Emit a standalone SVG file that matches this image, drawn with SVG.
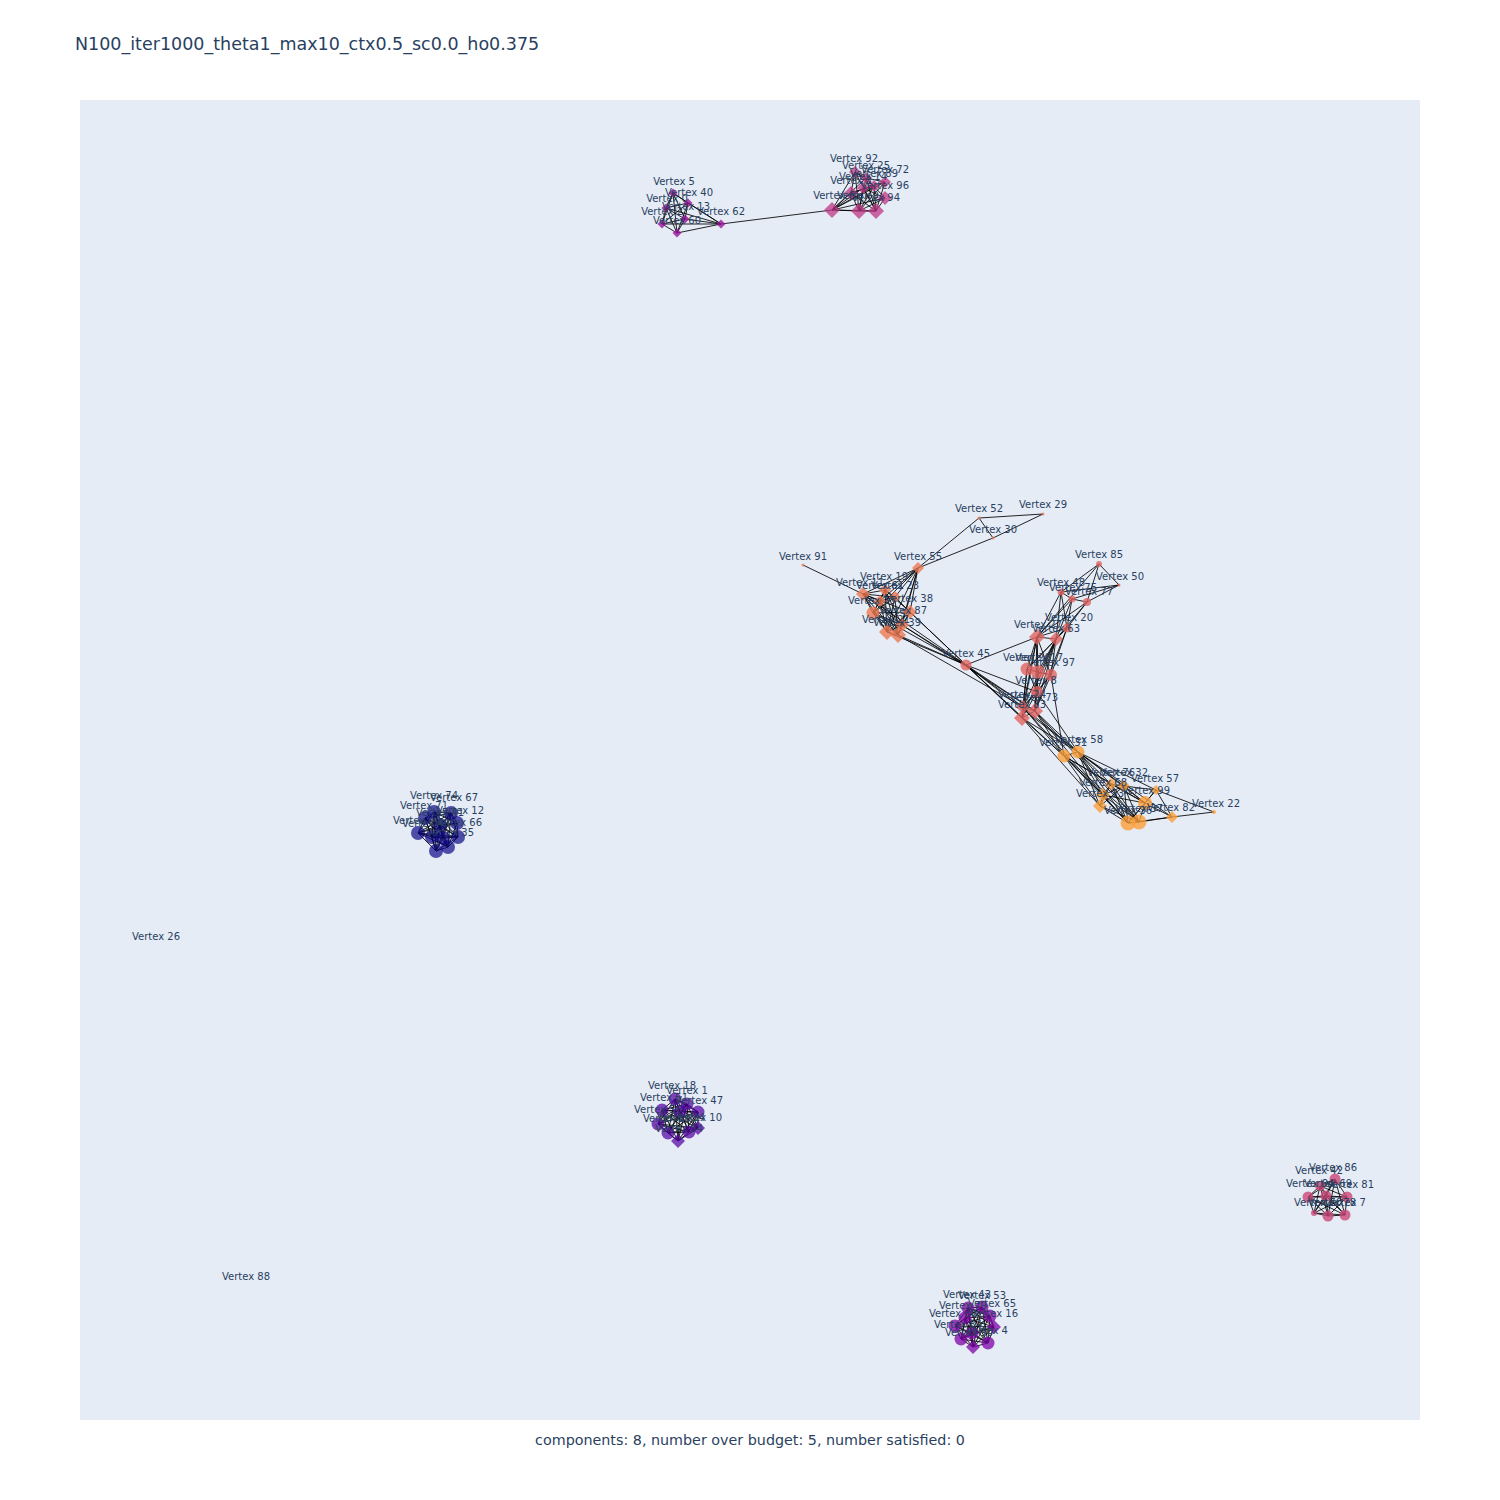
<svg xmlns="http://www.w3.org/2000/svg" width="1500" height="1500" viewBox="0 0 1500 1500">
<style>
text{font-family:"DejaVu Sans",Verdana,sans-serif;fill:#2a3f5f}
.t{font-size:10px;text-anchor:middle}
.e{stroke:#000;stroke-width:0.85;fill:none}
.cA{fill:#9c179e;opacity:.8}
.cB{fill:#bd3786;opacity:.75}
.cC{fill:#ed7953;opacity:.8}
.cD{fill:#e16462;opacity:.8}
.cE{fill:#fb9f3a;opacity:.8}
.cF{fill:#0d0887;opacity:.7}
.cG{fill:#5302a3;opacity:.72}
.cH{fill:#cc4778;opacity:.8}
.cI{fill:#7e03a8;opacity:.75}
</style>
<rect width="1500" height="1500" fill="#fff"/>
<rect x="80" y="100" width="1340" height="1320" fill="#E5ECF6"/>
<text x="75" y="50" font-size="17.5">N100_iter1000_theta1_max10_ctx0.5_sc0.0_ho0.375</text>
<text x="750" y="1445" font-size="14.3" text-anchor="middle">components: 8, number over budget: 5, number satisfied: 0</text>
<g id="connectors">
<path class="e" d="M673 193L688 203M673 193L666 208M673 193L685 219M673 193L721 224M673 193L662 224M673 193L677 233M688 203L666 208M688 203L685 219M688 203L721 224M688 203L662 224M688 203L677 233M666 208L685 219M666 208L721 224M666 208L662 224M666 208L677 233M685 219L721 224M685 219L662 224M685 219L677 233M721 224L662 224M721 224L677 233M662 224L677 233M721 224L832 210"/>
<path class="e" d="M832 210L855 172M832 210L866 178M832 210L885 182M832 210L874 186M832 210L851 193M832 210L885 198M832 210L876 211M832 210L859 211M832 210L863 188M859 211L855 172M859 211L866 178M859 211L885 182M859 211L874 186M859 211L851 193M859 211L885 198M859 211L876 211M859 211L863 188M876 211L855 172M876 211L866 178M876 211L885 182M876 211L874 186M876 211L851 193M876 211L885 198M876 211L863 188M855 172L866 178M866 178L885 182M855 172L874 186M866 178L885 198M851 193L885 182M851 193L874 186M863 188L885 198M855 172L851 193"/>
<path class="e" d="M803 565L863 594M918 568L885 590M918 568L863 594M918 568L880 601M918 568L895 597M918 568L873 613M918 568L910 612M918 568L902 625M918 568L887 632M918 568L898 635M918 568L979 518M918 568L993 538M979 518L1043 514M979 518L993 538M1043 514L993 538M863 594L885 590M863 594L880 601M863 594L895 597M863 594L873 613M863 594L910 612M863 594L902 625M863 594L887 632M863 594L898 635M885 590L880 601M885 590L895 597M885 590L873 613M885 590L910 612M885 590L902 625M885 590L887 632M885 590L898 635M873 613L880 601M873 613L895 597M873 613L910 612M873 613L902 625M873 613L887 632M873 613L898 635M887 632L895 597M887 632L910 612M887 632L902 625M887 632L898 635M887 632L880 601M898 635L895 597M898 635L910 612M898 635L902 625M898 635L880 601M880 601L895 597M910 612L902 625M895 597L910 612M880 601L902 625M910 612L966 665M902 625L966 665M887 632L966 665M898 635L966 665M873 613L966 665M863 594L966 665M910 612L1022 718M902 625L1035 711M898 635L1023 707"/>
<path class="e" d="M966 665L1037 637M966 665L1023 707M966 665L1035 711M966 665L1022 718M966 665L1037 692M966 665L1064 756M966 665L1078 752M1099 564L1061 592M1099 564L1119 585M1099 564L1087 602M1099 564L1037 637M1119 585L1087 602M1119 585L1072 599M1119 585L1061 592M1061 592L1072 599M1061 592L1037 637M1061 592L1056 639M1061 592L1067 628M1072 599L1087 602M1072 599L1067 628M1072 599L1037 637M1072 599L1056 639M1087 602L1067 628M1087 602L1056 639M1087 602L1037 637M1067 628L1037 637M1067 628L1056 639M1037 637L1056 639M1037 637L1027 669M1037 637L1038 672M1037 637L1051 675M1037 637L1037 692M1037 637L1023 707M1037 637L1035 711M1037 637L1022 718M1056 639L1027 669M1056 639L1038 672M1056 639L1051 675M1056 639L1037 692M1056 639L1023 707M1056 639L1035 711M1056 639L1022 718M1067 628L1051 675M1067 628L1027 669M1067 628L1035 711M1027 669L1038 672M1027 669L1037 692M1027 669L1023 707M1027 669L1022 718M1038 672L1051 675M1038 672L1037 692M1038 672L1035 711M1051 675L1037 692M1051 675L1035 711M1051 675L1023 707M1037 692L1023 707M1037 692L1035 711M1037 692L1022 718M1023 707L1035 711M1023 707L1022 718M1035 711L1022 718M1023 707L1078 752M1023 707L1064 756M1035 711L1078 752M1035 711L1064 756M1022 718L1064 756M1022 718L1078 752M1037 692L1078 752M1051 675L1064 756M1035 711L1103 795M1022 718L1100 806M1023 707L1128 823M1035 711L1139 822"/>
<path class="e" d="M1078 752L1064 756M1078 752L1111 784M1078 752L1124 786M1078 752L1156 790M1078 752L1103 795M1078 752L1145 803M1078 752L1100 806M1078 752L1172 817M1078 752L1128 823M1078 752L1139 822M1064 756L1111 784M1064 756L1103 795M1064 756L1100 806M1064 756L1128 823M1064 756L1139 822M1064 756L1145 803M1111 784L1124 786M1111 784L1103 795M1111 784L1145 803M1111 784L1100 806M1111 784L1128 823M1111 784L1139 822M1124 786L1156 790M1124 786L1103 795M1124 786L1145 803M1124 786L1100 806M1124 786L1128 823M1124 786L1139 822M1156 790L1145 803M1156 790L1172 817M1156 790L1128 823M1156 790L1214 812M1103 795L1100 806M1103 795L1128 823M1103 795L1139 822M1103 795L1145 803M1145 803L1172 817M1145 803L1128 823M1145 803L1139 822M1100 806L1128 823M1100 806L1139 822M1172 817L1128 823M1172 817L1139 822M1172 817L1214 812M1128 823L1139 822"/>
<path class="e" d="M451 813L434 812M451 813L425 818M451 813L440 825M451 813L418 833M451 813L432 837M451 813L443 838M451 813L458 837M451 813L448 847M451 813L436 851M434 812L425 818M434 812L440 825M434 812L418 833M434 812L432 837M434 812L443 838M434 812L458 837M434 812L448 847M434 812L436 851M425 818L440 825M425 818L418 833M425 818L432 837M425 818L443 838M425 818L458 837M425 818L448 847M425 818L436 851M440 825L418 833M440 825L432 837M440 825L443 838M440 825L458 837M440 825L448 847M440 825L436 851M418 833L432 837M418 833L443 838M418 833L458 837M418 833L448 847M418 833L436 851M432 837L443 838M432 837L458 837M432 837L448 847M432 837L436 851M443 838L458 837M443 838L448 847M443 838L436 851M458 837L448 847M458 837L436 851M448 847L436 851M457 823L451 813M457 823L440 825M457 823L458 837M457 823L448 847M457 823L418 833M457 823L434 812"/>
<path class="e" d="M675 1099L687 1104M675 1099L698 1112M675 1099L662 1110M675 1099L680 1112M675 1099L658 1124M675 1099L668 1133M675 1099L689 1132M675 1099L698 1128M675 1099L678 1141M687 1104L698 1112M687 1104L662 1110M687 1104L680 1112M687 1104L658 1124M687 1104L668 1133M687 1104L689 1132M687 1104L698 1128M687 1104L678 1141M698 1112L662 1110M698 1112L680 1112M698 1112L658 1124M698 1112L668 1133M698 1112L689 1132M698 1112L698 1128M698 1112L678 1141M662 1110L680 1112M662 1110L658 1124M662 1110L668 1133M662 1110L689 1132M662 1110L698 1128M662 1110L678 1141M680 1112L658 1124M680 1112L668 1133M680 1112L689 1132M680 1112L698 1128M680 1112L678 1141M658 1124L668 1133M658 1124L689 1132M658 1124L698 1128M658 1124L678 1141M668 1133L689 1132M668 1133L698 1128M668 1133L678 1141M689 1132L698 1128M689 1132L678 1141M698 1128L678 1141"/>
<path class="e" d="M1335 1179L1308 1197M1335 1179L1326 1196M1335 1179L1347 1197M1335 1179L1314 1213M1335 1179L1328 1216M1335 1179L1345 1215M1335 1179L1320 1186M1308 1197L1326 1196M1308 1197L1347 1197M1308 1197L1314 1213M1308 1197L1328 1216M1308 1197L1345 1215M1308 1197L1320 1186M1326 1196L1347 1197M1326 1196L1314 1213M1326 1196L1328 1216M1326 1196L1345 1215M1326 1196L1320 1186M1347 1197L1314 1213M1347 1197L1328 1216M1347 1197L1345 1215M1347 1197L1320 1186M1314 1213L1328 1216M1314 1213L1345 1215M1314 1213L1320 1186M1328 1216L1345 1215M1328 1216L1320 1186M1345 1215L1320 1186"/>
<path class="e" d="M968 1308L982 1307M968 1308L990 1316M968 1308L965 1318M968 1308L955 1326M968 1308L972 1333M968 1308L994 1327M968 1308L961 1339M968 1308L988 1343M968 1308L973 1347M982 1307L990 1316M982 1307L965 1318M982 1307L955 1326M982 1307L972 1333M982 1307L994 1327M982 1307L961 1339M982 1307L988 1343M982 1307L973 1347M990 1316L965 1318M990 1316L955 1326M990 1316L972 1333M990 1316L994 1327M990 1316L961 1339M990 1316L988 1343M990 1316L973 1347M965 1318L955 1326M965 1318L972 1333M965 1318L994 1327M965 1318L961 1339M965 1318L988 1343M965 1318L973 1347M955 1326L972 1333M955 1326L994 1327M955 1326L961 1339M955 1326L988 1343M955 1326L973 1347M972 1333L994 1327M972 1333L961 1339M972 1333L988 1343M972 1333L973 1347M994 1327L961 1339M994 1327L988 1343M994 1327L973 1347M961 1339L988 1343M961 1339L973 1347M988 1343L973 1347"/>
</g>
<g id="nodes">
<g id="v5"><path class="cA" d="M673 188.5l4.5 4.5-4.5 4.5-4.5-4.5z"/><text class="t" x="674" y="185">Vertex 5</text></g>
<g id="v40"><path class="cA" d="M688 198.5l4.5 4.5-4.5 4.5-4.5-4.5z"/><text class="t" x="689" y="196">Vertex 40</text></g>
<g id="v0"><path class="cA" d="M666 203.5l4.5 4.5-4.5 4.5-4.5-4.5z"/><text class="t" x="667" y="202">Vertex 0</text></g>
<g id="v13"><path class="cA" d="M685 214.5l4.5 4.5-4.5 4.5-4.5-4.5z"/><text class="t" x="686" y="210">Vertex 13</text></g>
<g id="v62"><path class="cA" d="M721 219.5l4.5 4.5-4.5 4.5-4.5-4.5z"/><text class="t" x="721" y="215">Vertex 62</text></g>
<g id="v2"><path class="cA" d="M662 219.5l4.5 4.5-4.5 4.5-4.5-4.5z"/><text class="t" x="662" y="215">Vertex 2</text></g>
<g id="v60"><path class="cA" d="M677 228.5l4.5 4.5-4.5 4.5-4.5-4.5z"/><text class="t" x="677" y="224">Vertex 60</text></g>

<g id="v92"><path class="cB" d="M855 166l6 6-6 6-6-6z"/><text class="t" x="854" y="162">Vertex 92</text></g>
<g id="v25"><path class="cB" d="M866 172l6 6-6 6-6-6z"/><text class="t" x="866" y="169">Vertex 25</text></g>
<g id="v72"><path class="cB" d="M885 176l6 6-6 6-6-6z"/><text class="t" x="885" y="173">Vertex 72</text></g>
<g id="v89"><path class="cB" d="M874 180l6 6-6 6-6-6z"/><text class="t" x="874" y="177">Vertex 89</text></g>
<g id="v14"><path class="cB" d="M863 182l6 6-6 6-6-6z"/><text class="t" x="863" y="180">Vertex 14</text></g>
<g id="v3"><path class="cB" d="M851 186l7 7-7 7-7-7z"/><text class="t" x="851" y="184">Vertex 3</text></g>
<g id="v96"><path class="cB" d="M885 191l7 7-7 7-7-7z"/><text class="t" x="885" y="189">Vertex 96</text></g>
<g id="v6"><path class="cB" d="M832 202l8 8-8 8-8-8z"/><text class="t" x="834" y="199">Vertex 6</text></g>
<g id="v9"><path class="cB" d="M859 203l8 8-8 8-8-8z"/><text class="t" x="858" y="199">Vertex 9</text></g>
<g id="v94"><path class="cB" d="M876 203l8 8-8 8-8-8z"/><text class="t" x="876" y="201">Vertex 94</text></g>

<g id="v91"><circle class="cC" cx="803" cy="565" r="1.5"/><text class="t" x="803" y="560">Vertex 91</text></g>
<g id="v55"><path class="cC" d="M918 562l6 6-6 6-6-6z"/><text class="t" x="918" y="560">Vertex 55</text></g>
<g id="v19"><path class="cC" d="M885 584l6 6-6 6-6-6z"/><text class="t" x="884" y="580">Vertex 19</text></g>
<g id="v11"><path class="cC" d="M863 587l7 7-7 7-7-7z"/><text class="t" x="860" y="586">Vertex 11</text></g>
<g id="v61"><path class="cC" d="M880 595l6 6-6 6-6-6z"/><text class="t" x="880" y="589">Vertex 61</text></g>
<g id="v23"><path class="cC" d="M895 591l6 6-6 6-6-6z"/><text class="t" x="895" y="589">Vertex 23</text></g>
<g id="v15"><circle class="cC" cx="873" cy="613" r="6.5"/><text class="t" x="872" y="604">Vertex 15</text></g>
<g id="v38"><path class="cC" d="M910 605l7 7-7 7-7-7z"/><text class="t" x="909" y="602">Vertex 38</text></g>
<g id="v87"><path class="cC" d="M902 618l7 7-7 7-7-7z"/><text class="t" x="903" y="614">Vertex 87</text></g>
<g id="v21"><path class="cC" d="M887 624l8 8-8 8-8-8z"/><text class="t" x="886" y="623">Vertex 21</text></g>
<g id="v39"><path class="cC" d="M898 627l8 8-8 8-8-8z"/><text class="t" x="897" y="626">Vertex 39</text></g>
<g id="v52"><circle class="cC" cx="979" cy="518" r="1.5"/><text class="t" x="979" y="512">Vertex 52</text></g>
<g id="v29"><circle class="cC" cx="1043" cy="514" r="1.5"/><text class="t" x="1043" y="508">Vertex 29</text></g>
<g id="v30"><circle class="cC" cx="993" cy="538" r="1.5"/><text class="t" x="993" y="533">Vertex 30</text></g>

<g id="v45"><circle class="cD" cx="966" cy="665" r="5.5"/><text class="t" x="966" y="657">Vertex 45</text></g>
<g id="v85"><circle class="cD" cx="1099" cy="564" r="3"/><text class="t" x="1099" y="558">Vertex 85</text></g>
<g id="v50"><circle class="cD" cx="1119" cy="585" r="1.5"/><text class="t" x="1120" y="580">Vertex 50</text></g>
<g id="v48"><circle class="cD" cx="1061" cy="592" r="3.5"/><text class="t" x="1061" y="586">Vertex 48</text></g>
<g id="v75"><circle class="cD" cx="1072" cy="599" r="3.5"/><text class="t" x="1073" y="591">Vertex 75</text></g>
<g id="v77"><circle class="cD" cx="1087" cy="602" r="4"/><text class="t" x="1089" y="595">Vertex 77</text></g>
<g id="v20"><circle class="cD" cx="1067" cy="628" r="4.5"/><text class="t" x="1069" y="621">Vertex 20</text></g>
<g id="v27"><path class="cD" d="M1037 629l8 8-8 8-8-8z"/><text class="t" x="1038" y="628">Vertex 27</text></g>
<g id="v63"><path class="cD" d="M1056 632l7 7-7 7-7-7z"/><text class="t" x="1056" y="632">Vertex 63</text></g>
<g id="v28"><circle class="cD" cx="1027" cy="669" r="6.5"/><text class="t" x="1027" y="661">Vertex 28</text></g>
<g id="v17"><circle class="cD" cx="1038" cy="672" r="7"/><text class="t" x="1039" y="661">Vertex 17</text></g>
<g id="v97"><circle class="cD" cx="1051" cy="675" r="6"/><text class="t" x="1051" y="666">Vertex 97</text></g>
<g id="v8"><circle class="cD" cx="1037" cy="692" r="6"/><text class="t" x="1036" y="684">Vertex 8</text></g>
<g id="v24"><path class="cD" d="M1023 700l7 7-7 7-7-7z"/><text class="t" x="1022" y="698">Vertex 24</text></g>
<g id="v73"><path class="cD" d="M1035 703l8 8-8 8-8-8z"/><text class="t" x="1034" y="701">Vertex 73</text></g>
<g id="v83"><path class="cD" d="M1022 710l8 8-8 8-8-8z"/><text class="t" x="1022" y="708">Vertex 83</text></g>

<g id="v58"><circle class="cE" cx="1078" cy="752" r="6.5"/><text class="t" x="1079" y="743">Vertex 58</text></g>
<g id="v31"><circle class="cE" cx="1064" cy="756" r="6.5"/><text class="t" x="1063" y="746">Vertex 31</text></g>
<g id="v76"><path class="cE" d="M1111 778l6 6-6 6-6-6z"/><text class="t" x="1111" y="776">Vertex 76</text></g>
<g id="v32"><path class="cE" d="M1124 780l6 6-6 6-6-6z"/><text class="t" x="1124" y="776">Vertex 32</text></g>
<g id="v57"><path class="cE" d="M1156 785l5 5-5 5-5-5z"/><text class="t" x="1155" y="782">Vertex 57</text></g>
<g id="v68"><path class="cE" d="M1103 788l7 7-7 7-7-7z"/><text class="t" x="1103" y="786">Vertex 68</text></g>
<g id="v99"><circle class="cE" cx="1145" cy="803" r="7"/><text class="t" x="1146" y="794">Vertex 99</text></g>
<g id="v33"><path class="cE" d="M1100 799l7 7-7 7-7-7z"/><text class="t" x="1100" y="797">Vertex 33</text></g>
<g id="v82"><path class="cE" d="M1172 811l6 6-6 6-6-6z"/><text class="t" x="1171" y="811">Vertex 82</text></g>
<g id="v22"><circle class="cE" cx="1214" cy="812" r="2"/><text class="t" x="1216" y="807">Vertex 22</text></g>
<g id="v36"><circle class="cE" cx="1128" cy="823" r="7.5"/><text class="t" x="1128" y="814">Vertex 36</text></g>
<g id="v37"><circle class="cE" cx="1139" cy="822" r="7.5"/><text class="t" x="1139" y="812">Vertex 37</text></g>

<g id="v67"><circle class="cF" cx="451" cy="813" r="7"/><text class="t" x="454" y="801">Vertex 67</text></g>
<g id="v74"><circle class="cF" cx="434" cy="812" r="7"/><text class="t" x="434" y="799">Vertex 74</text></g>
<g id="v71"><circle class="cF" cx="425" cy="818" r="7"/><text class="t" x="424" y="809">Vertex 71</text></g>
<g id="v12"><circle class="cF" cx="457" cy="823" r="7"/><text class="t" x="460" y="814">Vertex 12</text></g>
<g id="v41"><circle class="cF" cx="440" cy="825" r="7"/><text class="t" x="440" y="816">Vertex 41</text></g>
<g id="v44"><circle class="cF" cx="418" cy="833" r="7"/><text class="t" x="417" y="824">Vertex 44</text></g>
<g id="v46"><circle class="cF" cx="432" cy="837" r="7"/><text class="t" x="426" y="827">Vertex 46</text></g>
<g id="v66"><circle class="cF" cx="458" cy="837" r="7"/><text class="t" x="458" y="826">Vertex 66</text></g>
<g id="v35"><circle class="cF" cx="448" cy="847" r="7"/><text class="t" x="450" y="836">Vertex 35</text></g>
<g id="v49"><circle class="cF" cx="443" cy="838" r="7"/></g>
<g id="v93"><circle class="cF" cx="436" cy="851" r="7"/></g>

<g id="v18"><circle class="cG" cx="675" cy="1099" r="6.5"/><text class="t" x="672" y="1089">Vertex 18</text></g>
<g id="v1"><circle class="cG" cx="687" cy="1104" r="6.5"/><text class="t" x="687" y="1094">Vertex 1</text></g>
<g id="v47"><circle class="cG" cx="698" cy="1112" r="6.5"/><text class="t" x="699" y="1104">Vertex 47</text></g>
<g id="v51"><circle class="cG" cx="662" cy="1110" r="6.5"/><text class="t" x="664" y="1101">Vertex 51</text></g>
<g id="v95"><circle class="cG" cx="680" cy="1112" r="6.5"/></g>
<g id="v56"><circle class="cG" cx="658" cy="1124" r="6.5"/><text class="t" x="658" y="1113">Vertex 56</text></g>
<g id="v59"><circle class="cG" cx="668" cy="1133" r="6.5"/><text class="t" x="667" y="1122">Vertex 59</text></g>
<g id="v34"><circle class="cG" cx="689" cy="1132" r="6.5"/><text class="t" x="681" y="1121">Vertex 34</text></g>
<g id="v10"><path class="cG" d="M698 1121l7 7-7 7-7-7z"/><text class="t" x="698" y="1121">Vertex 10</text></g>
<g id="v54"><path class="cG" d="M678 1134l7 7-7 7-7-7z"/><text class="t" x="679" y="1132">Vertex 54</text></g>

<g id="v86"><circle class="cH" cx="1335" cy="1179" r="5.5"/><text class="t" x="1333" y="1171">Vertex 86</text></g>
<g id="v42"><circle class="cH" cx="1320" cy="1186" r="5"/><text class="t" x="1319" y="1174">Vertex 42</text></g>
<g id="v64"><circle class="cH" cx="1308" cy="1197" r="5.5"/><text class="t" x="1310" y="1187">Vertex 64</text></g>
<g id="v69"><circle class="cH" cx="1326" cy="1196" r="5.5"/><text class="t" x="1328" y="1187">Vertex 69</text></g>
<g id="v81"><circle class="cH" cx="1347" cy="1197" r="5.5"/><text class="t" x="1350" y="1188">Vertex 81</text></g>
<g id="v70"><circle class="cH" cx="1314" cy="1213" r="3"/><text class="t" x="1318" y="1206">Vertex 70</text></g>
<g id="v78"><circle class="cH" cx="1328" cy="1216" r="5.5"/><text class="t" x="1332" y="1206">Vertex 78</text></g>
<g id="v7"><circle class="cH" cx="1345" cy="1215" r="5.5"/><text class="t" x="1345" y="1206">Vertex 7</text></g>

<g id="v43"><circle class="cI" cx="968" cy="1308" r="6.5"/><text class="t" x="967" y="1298">Vertex 43</text></g>
<g id="v53"><circle class="cI" cx="982" cy="1307" r="6.5"/><text class="t" x="982" y="1299">Vertex 53</text></g>
<g id="v65"><circle class="cI" cx="990" cy="1316" r="6.5"/><text class="t" x="992" y="1307">Vertex 65</text></g>
<g id="v79"><circle class="cI" cx="965" cy="1318" r="6.5"/><text class="t" x="963" y="1309">Vertex 79</text></g>
<g id="v80"><circle class="cI" cx="955" cy="1326" r="6.5"/><text class="t" x="953" y="1317">Vertex 80</text></g>
<g id="v98"><circle class="cI" cx="972" cy="1333" r="6.5"/></g>
<g id="v16"><path class="cI" d="M994 1320l7 7-7 7-7-7z"/><text class="t" x="994" y="1317">Vertex 16</text></g>
<g id="v84"><circle class="cI" cx="961" cy="1339" r="6.5"/><text class="t" x="958" y="1328">Vertex 84</text></g>
<g id="v4"><circle class="cI" cx="988" cy="1343" r="6.5"/><text class="t" x="987" y="1334">Vertex 4</text></g>
<g id="v90"><path class="cI" d="M973 1340l7 7-7 7-7-7z"/><text class="t" x="969" y="1336">Vertex 90</text></g>

<g id="v26"><text class="t" x="156" y="940">Vertex 26</text></g>
<g id="v88"><text class="t" x="246" y="1280">Vertex 88</text></g>
</g>
</svg>
